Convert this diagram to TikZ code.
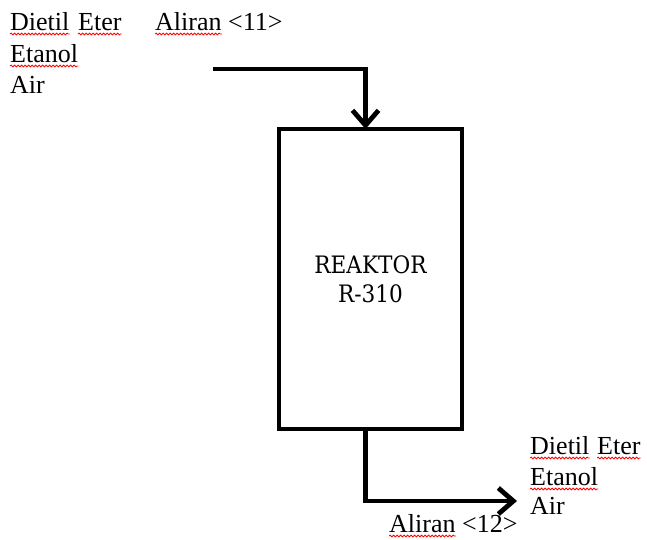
\documentclass[tikz,border=0pt]{standalone}
\usepackage{fontspec}
\setmainfont{Liberation Serif}
\newfontfamily\reakfont[FakeStretch=0.9]{DejaVu Serif}
\usetikzlibrary{arrows.meta,decorations.pathmorphing}
\begin{document}
\begin{tikzpicture}[x=1pt,y=-1pt,
  lbl/.style={anchor=base west, inner sep=0pt, font=\fontsize{26}{30}\selectfont},
  pipe/.style={line width=4.8pt, -{Straight Barb[length=15pt,width=26pt]}},
  wavy/.style={draw=red, line width=0.8pt, decorate, decoration={snake, amplitude=0.9pt, segment length=3.5pt}},
  reactor/.style={draw, line width=4.5pt, line join=miter, minimum width=183pt, minimum height=300pt, inner sep=0pt, outer sep=0pt, align=center, font=\reakfont\fontsize{24}{29}\selectfont}]
\useasboundingbox (0,0) rectangle (647,539);
% input labels
\node[lbl] (a1) at (10,30) {Dietil};
\node[lbl] (a2) at (78,30) {Eter};
\node[lbl] (a3) at (10,62) {Etanol};
\node[lbl] (a4) at (10,93) {Air};
\node[lbl] (s1) at (155,30) {Aliran};
\node[lbl] (s2) at (228,30) {<11>};
% output labels
\node[lbl] (b1) at (530,454) {Dietil};
\node[lbl] (b2) at (597,454) {Eter};
\node[lbl] (b3) at (530,485) {Etanol};
\node[lbl] (b4) at (530,514) {Air};
\node[lbl] (t1) at (389,532) {Aliran};
\node[lbl] (t2) at (462,532) {<12>};
% spell-check underlines
\foreach \n in {a1,a2,a3,s1,b1,b2,b3,t1}
  \draw[wavy] ([yshift=-4pt]\n.base west) -- ([yshift=-4pt]\n.base east);
% reactor
\node[reactor] (r) at (370.5,279) {REAKTOR\\R-310};
% streams
\coordinate (feed) at (213,69);
\coordinate (prod) at (517,501);
\draw[pipe] (feed) -| ([xshift=-5pt]r.north);
\draw[pipe] ([xshift=-5pt]r.south) |- (prod);
\end{tikzpicture}
\end{document}
